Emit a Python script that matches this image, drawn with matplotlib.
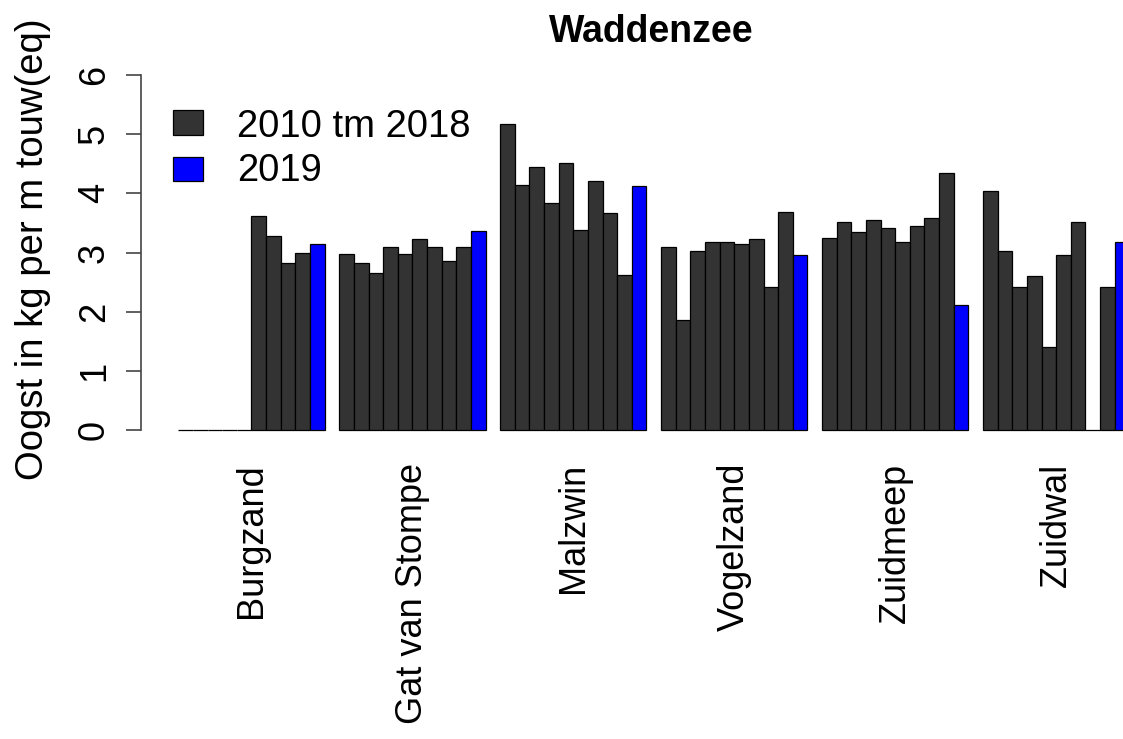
import matplotlib
matplotlib.use("Agg")
import matplotlib.pyplot as plt
from matplotlib.patches import Rectangle

plt.rcParams['font.family'] = ['Liberation Sans', 'DejaVu Sans']

# ---- data ----
locations = ["Burgzand", "Gat van Stompe", "Malzwin", "Vogelzand", "Zuidmeep", "Zuidwal"]
years = [2010, 2011, 2012, 2013, 2014, 2015, 2016, 2017, 2018, 2019]
burgzand = [0, 0, 0, 0, 0, 3.62, 3.28, 2.83, 3.00, 3.14]
gat_van_stompe = [2.97, 2.83, 2.66, 3.10, 2.97, 3.23, 3.10, 2.86, 3.10, 3.37]
malzwin = [5.18, 4.14, 4.45, 3.83, 4.52, 3.38, 4.21, 3.66, 2.62, 4.13]
vogelzand = [3.10, 1.86, 3.03, 3.17, 3.17, 3.14, 3.23, 2.41, 3.69, 2.96]
zuidmeep = [3.24, 3.52, 3.35, 3.55, 3.41, 3.17, 3.45, 3.58, 4.34, 2.11]
zuidwal = [4.04, 3.03, 2.41, 2.61, 1.41, 2.96, 3.52, 0, 2.41, 3.17]
series = [burgzand, gat_van_stompe, malzwin, vogelzand, zuidmeep, zuidwal]
legend_labels = ["2010 tm 2018", "2019"]
yticks = [0, 1, 2, 3, 4, 5, 6]

col_old = "#333333"
col_new = "#0000FF"

W, H = 1123, 739
fig = plt.figure(figsize=(W / 100, H / 100), dpi=100)

# axes placement in pixels (from top-left)
ax_left_px, ax_right_px = 141, 1123
ax_top_px, ax_bot_px = 60.8, 444.2
ax = fig.add_axes([ax_left_px / W, 1 - ax_bot_px / H,
                   (ax_right_px - ax_left_px) / W, (ax_bot_px - ax_top_px) / H])

n = len(years)
centers = []
for g, vals in enumerate(series):
    start = 1 + g * (n + 1)
    xs = [start + j for j in range(n)]
    cols = [col_old] * (n - 1) + [col_new]
    ax.bar(xs, vals, width=1.0, align='edge', color=cols,
           edgecolor='black', linewidth=0.9)
    centers.append(start + n / 2)

ax.set_xlim(-1.55, 65.57)
ax.set_ylim(-0.24, 6.24)

for s in ['top', 'right', 'bottom']:
    ax.spines[s].set_visible(False)
ax.spines['left'].set_bounds(0, 6)
ax.spines['left'].set_color('#444444')
ax.spines['left'].set_linewidth(1.2)

ax.set_yticks(yticks)
ax.set_yticklabels([str(t) for t in yticks])
ax.tick_params(axis='y', length=11, width=1.2, color='#444444', pad=10,
               labelsize=26)
for lbl in ax.get_yticklabels():
    lbl.set_rotation(90)
    lbl.set_va('center')

ax.set_xticks(centers)
ax.set_xticklabels(locations, rotation=90, fontsize=26)
ax.tick_params(axis='x', length=0, pad=13.5)

# title and y label
fig.text(651 / W, 1 - 41.7 / H, "Waddenzee", ha='center', va='baseline',
         fontsize=27, fontweight='bold')
fig.text(33 / W, 1 - 249 / H, "Oogst in kg per m touw(eq)", rotation=90,
         ha='center', va='center', fontsize=27.5)

# legend (drawn in figure pixel coordinates)
for (top, bottom, base), col, lab in zip([(110, 135, 137), (156.7, 180.5, 181)],
                                        [col_old, col_new], legend_labels):
    fig.add_artist(Rectangle((173 / W, 1 - bottom / H), 30 / W, (bottom - top) / H,
                             transform=fig.transFigure, facecolor=col,
                             edgecolor='black', linewidth=0.9))
    fig.text(236.7 / W, 1 - base / H, lab, ha='left', va='baseline', fontsize=27.5)

fig.savefig("out.png", dpi=100)
